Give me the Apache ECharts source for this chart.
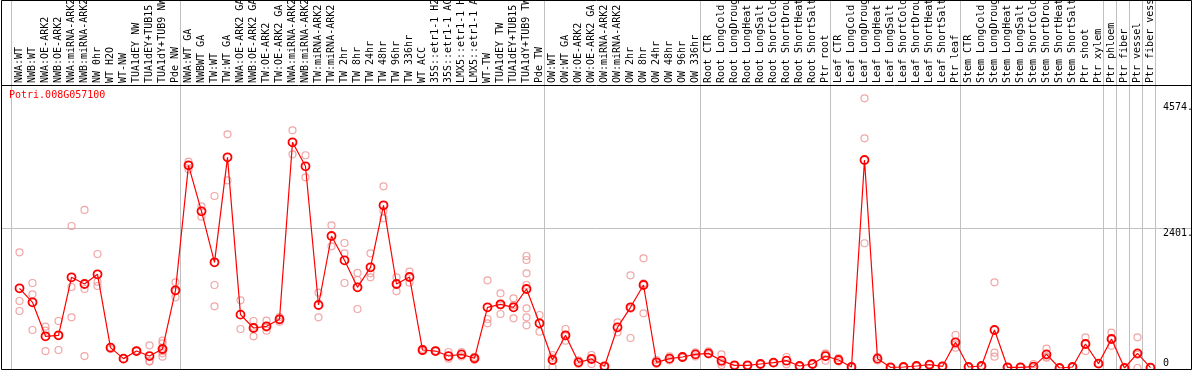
<!DOCTYPE html>
<html><head><meta charset="utf-8">
<script src="https://cdn.jsdelivr.net/npm/echarts@6/dist/echarts.min.js"></script>
<style>html,body{margin:0;padding:0;background:#fff}#c{width:1194px;height:370px}</style>
</head><body><div id="c"></div>
<script>
const geneId = 'Potri.008G057100';
const categories = [
 'NWA:WT','NWB:WT','NWA:OE-ARK2','NWB:OE-ARK2','NWA:miRNA-ARK2','NWB:miRNA-ARK2','NW 0hr','WT H2O','WT-NW','TUA1dEY NW',
 'TUA1dEY+TUB15 NW','TUA1dY+TUB9 NW','Pde NW','NWA:WT GA','NWBWT GA','TW:WT','TW:WT GA','NWA:OE-ARK2 GA','NWB:OE-ARK2 GA','TW:OE-ARK2',
 'TW:OE-ARK2 GA','NWA:miRNA-ARK2 GA','NWB:miRNA-ARK2 GA','TW:miRNA-ARK2','TW:miRNA-ARK2 GA','TW 2hr','TW 8hr','TW 24hr','TW 48hr','TW 96hr',
 'TW 336hr','WT ACC','35S::etr1-1 H2O','35S::etr1-1 ACC','LMX5::etr1-1 H2O','LMX5::etr1-1 ACC','WT-TW','TUA1dEY TW','TUA1dEY+TUB15 TW','TUA1dY+TUB9 TW',
 'Pde TW','OW:WT','OW:WT GA','OW:OE-ARK2','OW:OE-ARK2 GA','OW:miRNA-ARK2','OW:miRNA-ARK2 GA','OW 2hr','OW 8hr','OW 24hr',
 'OW 48hr','OW 96hr','OW 336hr','Root CTR','Root LongCold','Root LongDrought','Root LongHeat','Root LongSalt','Root ShortCold','Root ShortDrought',
 'Root ShortHeat','Root ShortSalt','Ptr root','Leaf CTR','Leaf LongCold','Leaf LongDrought','Leaf LongHeat','Leaf LongSalt','Leaf ShortCold','Leaf ShortDrought',
 'Leaf ShortHeat','Leaf ShortSalt','Ptr leaf','Stem CTR','Stem LongCold','Stem LongDrought','Stem LongHeat','Stem LongSalt','Stem ShortCold','Stem ShortDrought',
 'Stem ShortHeat','Stem ShortSalt','Ptr shoot','Ptr xylem','Ptr phloem','Ptr fiber','Ptr vessel','Ptr fiber vessel'
];
const means = [
 1371,1130,545,562,1560,1445,1612,350,161,292,
 206,327,1337,3487,2696,1818,3625,918,688,717,
 838,3883,3470,1084,2271,1853,1388,1732,2799,1445,
 1566,310,292,206,235,167,1044,1096,1044,1359,
 769,138,562,98,155,29,700,1044,1428,98,
 161,189,235,252,126,46,46,69,92,126,
 34,69,206,138,17,3579,161,12,17,34,
 57,29,442,17,34,654,12,12,23,235,
 0,17,413,75,499,0,252,6
];
const replicates = [
 [1990,1153,981],[1462,1268,654],[711,642,292],[809,562,310],[2443,1394,872],[2719,1359,206],[1961,1485,1411],[361,327],[161,165],[300,285],
 [390,120,110],[470,424,335,252,195,290],[1474,1216,1320],[3550,3419,3490],[2782,2604],[2959,1428,1061],[4020,3229],[1164,671],[809,545,710],[814,642,695],
 [877,797,840],[4090,3677],[3660,3281],[1296,872],[2455,2094],[2151,1973,1462],[1635,1514,1015],[1973,1629,1560],[3126,2576,2700],[1560,1319,1455],
 [1657,1468],[330,290],[300,285],[275,161],[275,200],[190,140,170],[1509,843,769],[1285,929,1075],[1199,855,1078],[1927,1858,1629,1428,1027,872,735],
 [912,625],[224,12,178],[671,470,545],[130,70],[224,69,172],[35,25],[786,614],[1595,516,1021],[1887,941,1456],[138,69],
 [200,130],[200,178],[270,200],[287,235],[235,52,92],[50,42],[50,42],[75,63],[100,85],[189,63],
 [40,28],[75,63],[252,126,240],[170,110],[20,14],[4640,3952,2146],[190,130],[15,9],[20,14],[40,28],
 [63,50],[35,25],[568,350,408],[20,14],[40,28],[1474,264,195],[15,9],[15,9],[69,0],[333,178,194],
 [0,0],[20,14],[528,292,419],[80,70],[607,384,506],[0,0],[528,0,228],[8,4]
];
const yLabelValuesTop = [2401, 4574];
const yLabelValuesBottom = [0];
const gridLineValues = [2401];
const separatorBefore = [0, 13, 41, 53, 63, 73, 84, 85, 86, 87];

const FONT = 'DejaVu Sans Mono';
const scatterData = [];
replicates.forEach((arr, i) => arr.forEach(v => scatterData.push([i, v])));
const Y_MAX = 4869;
const fmt = v => v === 0 ? '0' : (v + '.');

const chart = echarts.init(document.getElementById('c'), null, {renderer: 'canvas'});
const option = {
  animation: false,
  backgroundColor: '#fff',
  title: {text: geneId, left: 9, top: 90, padding: 0,
    textStyle: {color: '#ff0000', fontFamily: FONT, fontSize: 10, fontWeight: 'normal'}},
  grid: [
    {left: 13, right: 37, top: 85, bottom: 2, outerBoundsMode: 'none', containLabel: false},
    {left: 11, right: 39, top: 0, bottom: 1, outerBoundsMode: 'none', containLabel: false}
  ],
  xAxis: [
    {type: 'category', gridIndex: 0, data: categories, position: 'top', boundaryGap: true,
     axisLine: {show: false}, axisTick: {show: false}, splitLine: {show: false},
     axisLabel: {interval: 0, rotate: 90, margin: 2, fontFamily: FONT, fontSize: 10, color: '#000', hideOverlap: false}},
    {type: 'category', gridIndex: 1, data: categories, boundaryGap: true,
     axisLine: {show: false}, axisTick: {show: false}, axisLabel: {show: false},
     splitLine: {show: true, showMinLine: true, showMaxLine: true,
       interval: (i) => separatorBefore.indexOf(i) >= 0,
       lineStyle: {color: '#c0c0c0', width: 1}}}
  ],
  yAxis: [
    {type: 'value', gridIndex: 0, position: 'right', min: 0, max: Y_MAX,
     axisLine: {show: false}, axisTick: {show: false}, splitLine: {show: false},
     axisLabel: {customValues: yLabelValuesTop, formatter: fmt, verticalAlign: 'top', align: 'left', margin: 6,
       fontFamily: FONT, fontSize: 10, color: '#000'}},
    {type: 'value', gridIndex: 0, position: 'right', min: 0, max: Y_MAX,
     axisLine: {show: false}, axisTick: {show: false}, splitLine: {show: false},
     axisLabel: {customValues: yLabelValuesBottom, formatter: fmt, verticalAlign: 'bottom', align: 'left', margin: 6,
       fontFamily: FONT, fontSize: 10, color: '#000'}},
    {type: 'value', gridIndex: 1, show: false, min: 0, max: 1}
  ],
  series: [
    {type: 'scatter', xAxisIndex: 0, yAxisIndex: 0, data: scatterData, symbol: 'circle', symbolSize: 7, z: 2,
     itemStyle: {color: 'rgba(0,0,0,0)', borderColor: '#ee9090', borderWidth: 1.2}, silent: true},
    {type: 'line', xAxisIndex: 0, yAxisIndex: 0, data: means, symbol: 'circle', symbolSize: 8, z: 3,
     lineStyle: {color: '#ff0000', width: 1.2},
     itemStyle: {color: 'rgba(0,0,0,0)', borderColor: '#ff0000', borderWidth: 1.8}, silent: true}
  ],
  graphic: [
    {type: 'rect', id: 'frame', silent: true, z: 100,
     shape: {x: 1.5, y: 0.5, width: 1190, height: 369}, style: {fill: null, stroke: '#000', lineWidth: 1}},
    {type: 'line', id: 'hdr', silent: true, z: 100,
     shape: {x1: 1, y1: 85.5, x2: 1192, y2: 85.5}, style: {stroke: '#000', lineWidth: 1}}
  ]
};
chart.setOption(option);
const gy = Math.round(chart.convertToPixel({yAxisIndex: 0}, gridLineValues[0])) + 0.5;
chart.setOption({graphic: [
  {type: 'line', id: 'grid2401', silent: true, z: 0,
   shape: {x1: 1, y1: gy, x2: 1192, y2: gy}, style: {stroke: '#c0c0c0', lineWidth: 1}}
]});
</script></body></html>
